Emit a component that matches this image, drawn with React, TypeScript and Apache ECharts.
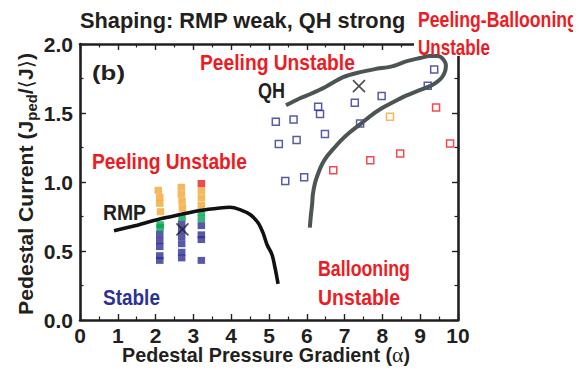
import React, { useEffect, useRef } from "react";
import * as echarts from "echarts";

// Edge-stability diagram: pedestal current vs. pedestal pressure gradient

// RMP case: equilibrium scan columns, coloured by stability
const rmpStable = [
  [2.11, 0.622], [2.11, 0.575], [2.11, 0.532], [2.11, 0.466], [2.11, 0.432],
  [2.69, 0.697], [2.69, 0.65], [2.69, 0.603], [2.69, 0.553], [2.69, 0.491], [2.69, 0.45],
  [3.21, 0.684], [3.21, 0.617], [3.21, 0.583], [3.21, 0.432],
];
const rmpMarginal = [
  [2.12, 0.69], [2.12, 0.67], [2.7, 0.746], [3.21, 0.782], [3.21, 0.735],
];
const rmpPeeling = [
  [2.07, 0.94], [2.11, 0.89], [2.11, 0.845], [2.13, 0.785],
  [2.68, 0.962], [2.68, 0.911], [2.7, 0.86], [2.71, 0.809],
  [3.21, 0.938], [3.21, 0.886], [3.21, 0.833],
];
const rmpUnstable = [[3.21, 0.989]];

// QH case: equilibrium scan points
const qhStable = [
  [9.37, 1.816], [9.2, 1.697], [7.98, 1.623], [7.27, 1.574], [6.3, 1.545],
  [6.35, 1.492], [5.18, 1.436], [5.65, 1.453], [7.41, 1.424], [6.48, 1.347],
  [5.26, 1.276], [5.73, 1.305], [5.43, 1.008], [5.93, 1.034],
];
const qhMarginal = [[8.2, 1.472]];
const qhUnstable = [
  [9.42, 1.54], [9.79, 1.279], [8.47, 1.207], [7.68, 1.158], [6.7, 1.085],
];

// Experimental operating points
const rmpOperating = [[2.71, 0.657]];
const qhOperating = [[7.38, 1.695]];

// Stability boundaries
const rmpBoundary = [
  [0.9, 0.647], [1.4, 0.679], [2.04, 0.727], [2.65, 0.764], [3.17, 0.793],
  [3.7, 0.812], [3.97, 0.817], [4.23, 0.8], [4.5, 0.764], [4.71, 0.705],
  [4.84, 0.633], [4.95, 0.545], [5.08, 0.473], [5.16, 0.378], [5.24, 0.262],
];
const qhBoundary = [
  [5.45, 1.556], [5.82, 1.607], [6.08, 1.636], [6.48, 1.687], [6.96, 1.76],
  [7.41, 1.796], [7.8, 1.818], [8.28, 1.84], [8.65, 1.876], [8.99, 1.898],
  [9.26, 1.913], [9.47, 1.913], [9.6, 1.891], [9.68, 1.847], [9.66, 1.804],
  [9.58, 1.76], [9.44, 1.724], [9.26, 1.695], [8.92, 1.658], [8.6, 1.622],
  [8.28, 1.578], [7.94, 1.527], [7.67, 1.476], [7.41, 1.418], [7.14, 1.36],
  [6.88, 1.295], [6.69, 1.236], [6.53, 1.185], [6.4, 1.127], [6.3, 1.062],
  [6.22, 0.996], [6.16, 0.909], [6.14, 0.836], [6.11, 0.764], [6.08, 0.669],
];

const X_MIN = 0, X_MAX = 10, X_STEP = 1;
const Y_MIN = 0, Y_MAX = 2, Y_STEP = 0.5;

const INK = "#231f20";
const RED = "#ed1c24";
const BLUE = "#2e3192";
const ORANGE = "#f2a633";
const GREEN = "#00a651";
const FONT = '"Liberation Sans", Arial, sans-serif';
const SYM_FONT = '"DejaVu Sans", sans-serif';

let measureCtx: CanvasRenderingContext2D | null = null;
function textWidth(text: string, font: string): number {
  if (!measureCtx) measureCtx = document.createElement("canvas").getContext("2d");
  if (!measureCtx) return 1;
  measureCtx.font = font;
  return measureCtx.measureText(text).width || 1;
}

// Bold label squeezed to a given width, anchored at its left edge
function label(text: string, x: number, y: number, width: number, size: number, color: string) {
  const font = `bold ${size}px ${FONT}`;
  return {
    type: "text",
    x,
    y,
    z: 10,
    scaleX: width / textWidth(text, font),
    silent: true,
    style: { text, fill: color, font, align: "left", verticalAlign: "middle" },
  };
}

function frameAxis(position: string, isX: boolean, showLabels: boolean) {
  return {
    type: "value",
    position,
    min: isX ? X_MIN : Y_MIN,
    max: isX ? X_MAX : Y_MAX,
    interval: isX ? X_STEP : Y_STEP,
    axisLine: { show: true, onZero: false, lineStyle: { color: INK, width: 2.6 } },
    axisTick: { show: true, inside: true, length: 6, lineStyle: { color: INK, width: 1.4 } },
    minorTick: { show: true, splitNumber: 2, length: 3.5, lineStyle: { color: INK, width: 1.2 } },
    splitLine: { show: false },
    axisLabel: {
      show: showLabels,
      color: INK,
      fontFamily: FONT,
      fontWeight: "bold",
      fontSize: 21,
      margin: isX ? 5 : 7,
      formatter: (v: number) => (isX ? String(v) : v.toFixed(1)),
    },
  };
}

function squares(data: number[][], color: string) {
  return {
    type: "scatter",
    data,
    symbol: "rect",
    symbolSize: [7.5, 7],
    itemStyle: { color },
    silent: true,
    z: 3,
  };
}

function openSquares(data: number[][], color: string) {
  return {
    type: "scatter",
    data,
    symbol: "rect",
    symbolSize: 7,
    itemStyle: { color: "rgba(255,255,255,0)", borderColor: color, borderWidth: 1.5 },
    silent: true,
    z: 3,
  };
}

function crosses(data: number[][]) {
  return {
    type: "scatter",
    data,
    symbol: "path://M0,0L10,10M10,0L0,10",
    symbolSize: 12,
    itemStyle: { color: "rgba(0,0,0,0)", borderColor: INK, borderWidth: 1.6 },
    silent: true,
    z: 6,
  };
}

export default function App() {
  const ref = useRef<HTMLDivElement>(null);

  useEffect(() => {
    if (!ref.current) return;
    const chart = echarts.init(ref.current, undefined, { renderer: "svg" });

    const yNameMain = `bold 20px ${FONT}`;
    const yNameSub = `bold 14px ${FONT}`;
    const yNameBracket = `20px ${SYM_FONT}`;
    const yNameWidth =
      textWidth("Pedestal Current (J", yNameMain) +
      textWidth("ped", yNameSub) +
      textWidth("/", yNameMain) +
      textWidth("\u27e8", yNameBracket) +
      textWidth("J", yNameMain) +
      textWidth("\u27e9", yNameBracket) +
      textWidth(")", yNameMain);

    const xNameMain = `bold 20px ${FONT}`;
    const xNameAlpha = `22px "Liberation Serif", serif`;
    const xNameWidth =
      textWidth("Pedestal Pressure Gradient (", xNameMain) +
      textWidth("\u03b1", xNameAlpha) +
      textWidth(")", xNameMain);

    chart.setOption({
      animation: false,
      backgroundColor: "#ffffff",
      grid: { left: 80, right: 123, top: 44, bottom: 66, containLabel: false },
      xAxis: [frameAxis("bottom", true, true), frameAxis("top", true, false)],
      yAxis: [frameAxis("left", false, true), frameAxis("right", false, false)],
      graphic: [
        // white box behind the corner label
        {
          type: "rect",
          shape: { x: 414, y: 0, width: 167, height: 56 },
          style: { fill: "#ffffff" },
          z: 1,
          silent: true,
        },
        label("Shaping: RMP weak, QH strong", 80, 20, 326, 22, INK),
        label("Peeling-Ballooning", 418, 19, 160, 22, RED),
        label("Unstable", 418, 47, 72, 22, RED),
        label("(b)", 92, 73, 33, 21, INK),
        label("Peeling Unstable", 200, 62, 155, 22, RED),
        label("QH", 258, 90, 27, 22, INK),
        label("Peeling Unstable", 92, 161, 155, 22, RED),
        label("RMP", 103, 212, 43, 22, INK),
        label("Stable", 103, 297, 57, 22, BLUE),
        label("Ballooning", 318, 268, 92, 22, RED),
        label("Unstable", 318, 297, 82, 22, RED),
        {
          type: "text",
          x: 266,
          y: 355,
          z: 10,
          scaleX: 288 / xNameWidth,
          silent: true,
          style: {
            text: "{m|Pedestal Pressure Gradient (}{a|\u03b1}{m|)}",
            align: "center",
            verticalAlign: "middle",
            rich: {
              m: { font: xNameMain, fill: INK },
              a: { font: xNameAlpha, fill: INK },
            },
          },
        },
        {
          type: "text",
          x: 26,
          y: 184,
          z: 10,
          rotation: Math.PI / 2,
          scaleX: 262 / yNameWidth,
          silent: true,
          style: {
            text: "{m|Pedestal Current (J}{s|ped}{m|/}{b|\u27e8}{m|J}{b|\u27e9}{m|)}",
            align: "center",
            verticalAlign: "middle",
            rich: {
              m: { font: yNameMain, fill: INK, lineHeight: 26 },
              b: { font: yNameBracket, fill: INK, lineHeight: 26 },
              s: { font: yNameSub, fill: INK, lineHeight: 26, verticalAlign: "bottom" },
            },
          },
        },
      ],
      series: [
        squares(rmpStable, BLUE),
        squares(rmpMarginal, GREEN),
        squares(rmpPeeling, ORANGE),
        squares(rmpUnstable, RED),
        openSquares(qhStable, BLUE),
        openSquares(qhMarginal, ORANGE),
        openSquares(qhUnstable, RED),
        {
          type: "line",
          data: rmpBoundary,
          showSymbol: false,
          smooth: 0.3,
          lineStyle: { color: "#111111", width: 3.6 },
          silent: true,
          z: 5,
        },
        {
          type: "line",
          data: qhBoundary,
          showSymbol: false,
          smooth: 0.3,
          lineStyle: { color: "#4b5553", width: 4 },
          silent: true,
          z: 5,
        },
        crosses(rmpOperating),
        crosses(qhOperating),
      ],
    });

    return () => chart.dispose();
  }, []);

  return <div ref={ref} style={{ width: 581, height: 386, margin: -8 }} />;
}
